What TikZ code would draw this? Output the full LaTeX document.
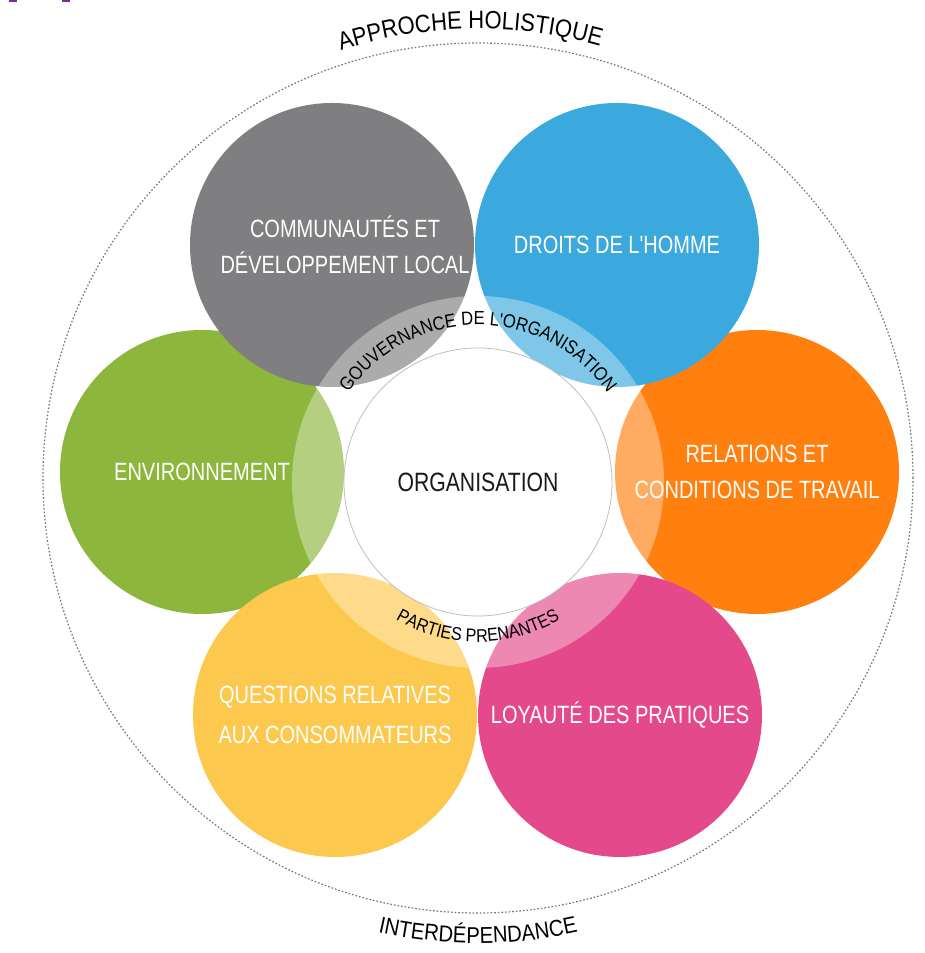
\documentclass[tikz,border=0pt]{standalone}
\usepackage{fontspec}
\usepackage{xcolor}
\usepackage{tikz}
\usetikzlibrary{decorations.text}
\newfontfamily\diagfont{Liberation Sans}[FakeStretch=0.88]
\newfontfamily\bubblefont{Liberation Sans}[FakeStretch=0.8]
\definecolor{isogray}{HTML}{7F7F81}
\definecolor{isoblue}{HTML}{3BA9DD}
\definecolor{isogreen}{HTML}{8DB63C}
\definecolor{isoorange}{HTML}{FF7F0F}
\definecolor{isopink}{HTML}{E4498B}
\definecolor{isoyellow}{HTML}{FDC84E}
\definecolor{isopurple}{HTML}{7030A0}

\begin{document}
\begin{tikzpicture}[x=1pt,y=1pt,
  bubble/.style={circle,minimum size=284pt,inner sep=0pt,align=center,text=white,
    font=\bubblefont\fontsize{25}{36}\selectfont},
  hub/.style={circle,minimum size=268pt,inner sep=0pt,fill=white,draw=black!25,line width=0.8pt,
    font=\bubblefont\fontsize{26.5}{30}\selectfont,text=black!90},
  ringtext/.style={decorate,decoration={text along path,text align=center,text={#1}}}]
  \useasboundingbox (0,0) rectangle (924,953);
  % Six themes around the organisation
  \node[bubble,fill=isogreen] (env) at (202,481) {ENVIRONNEMENT};
  \node[bubble,fill=isoorange] (travail) at (757,481) {RELATIONS ET\\CONDITIONS DE TRAVAIL};
  \node[bubble,fill=isogray] (communautes) at (332,708) {\hspace*{26pt}COMMUNAUTÉS ET\\\hspace*{26pt}DÉVELOPPEMENT LOCAL};
  \node[bubble,fill=isoblue] (droits) at (617,708) {DROITS DE L'HOMME};
  \node[bubble,fill=isoyellow] (consommateurs) at (335,238) {QUESTIONS RELATIVES\\[4pt]AUX CONSOMMATEURS};
  \node[bubble,fill=isopink] (loyaute) at (620,238) {LOYAUTÉ DES PRATIQUES};
  % Light band round the centre
  \fill[white,opacity=0.35] (478,471) circle (186pt);
  \node[hub] (org) at (478,471) {ORGANISATION};
  % Dotted outer ring
  \draw[black!55,line width=1.2pt,dash pattern=on 1.6pt off 2pt] (478,475) circle (435pt);
  % Texts along the rings
  \path[ringtext={|\diagfont\fontsize{19}{19}\selectfont|GOUVERNANCE DE L'ORGANISATION}]
    (org.center) ++(160:157pt) arc[start angle=160,end angle=20,radius=157pt];
  \path[ringtext={|\diagfont\fontsize{18.4}{18.4}\selectfont|PARTIES PRENANTES}]
    (org.center) ++(200:160pt) arc[start angle=200,end angle=340,radius=160pt];
  \path[ringtext={|\diagfont\fontsize{25}{25}\selectfont|APPROCHE HOLISTIQUE}]
    (478,475) ++(162:449pt) arc[start angle=162,end angle=20,radius=449pt];
  \path[ringtext={|\diagfont\fontsize{23}{23}\selectfont|INTERD{É}PENDANCE}]
    (478,475) ++(200:465pt) arc[start angle=200,end angle=340,radius=465pt];
  % Marks at the top edge
  \fill[isopurple] (9,951) rectangle (17,953);
  \fill[isopurple] (62,951) rectangle (70,953);
\end{tikzpicture}
\end{document}
